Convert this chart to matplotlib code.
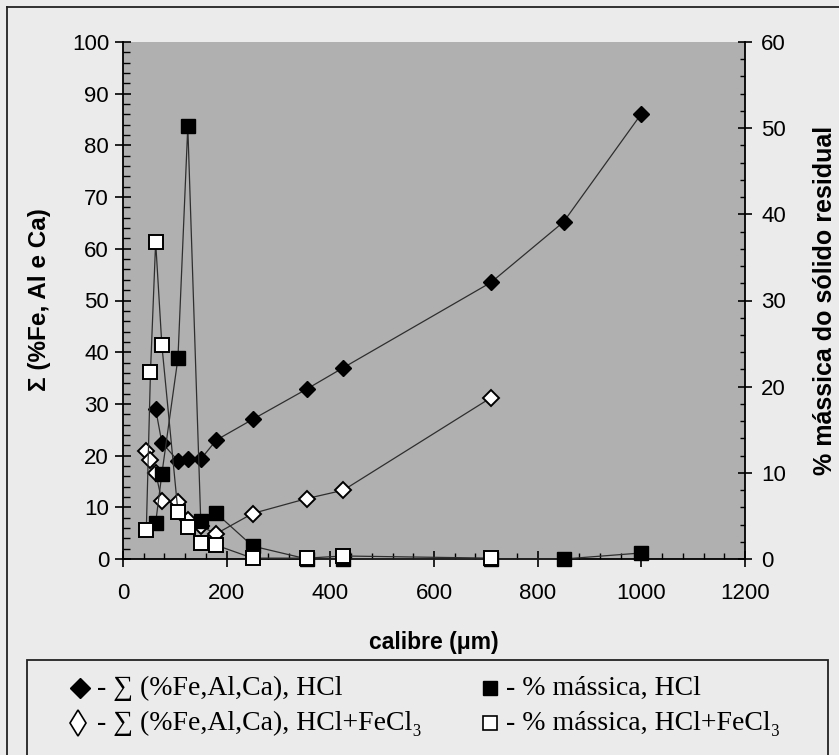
import matplotlib
matplotlib.use("Agg")
import matplotlib.pyplot as plt
from matplotlib.lines import Line2D
from matplotlib.patches import Rectangle
from matplotlib.ticker import MultipleLocator

# --- data -------------------------------------------------------------
calibre_hcl = [63, 75, 106, 125, 150, 180, 250, 355, 425, 710, 850, 1000]
soma_hcl = [29.0, 22.5, 19.0, 19.4, 19.3, 23.0, 27.0, 32.9, 37.0, 53.5, 65.2, 86.1]
massa_hcl = [4.2, 9.9, 23.3, 50.2, 4.4, 5.3, 1.5, 0.0, 0.0, 0.0, 0.0, 0.7]

calibre_fecl3 = [45, 53, 63, 75, 106, 125, 150, 180, 250, 355, 425, 710]
soma_fecl3 = [20.9, 19.1, 16.7, 11.2, 11.1, 7.5, 6.3, 4.9, 8.8, 11.7, 13.3, 31.2]
massa_fecl3 = [3.4, 21.7, 36.8, 24.8, 5.5, 3.7, 1.8, 1.6, 0.1, 0.1, 0.35, 0.1]

xlabel = "calibre (\u03bcm)"
ylabel_left = "\u03a3 (%Fe, Al e Ca)"
ylabel_right = "% m\u00e1ssica do s\u00f3lido residual"
legend_labels = [
    "- \u2211 (%Fe,Al,Ca), HCl",
    "- \u2211 (%Fe,Al,Ca), HCl+FeCl\u2083",
    "- % m\u00e1ssica, HCl",
    "- % m\u00e1ssica, HCl+FeCl\u2083",
]

# --- figure -----------------------------------------------------------
W, H, DPI = 839, 755, 100
SANS = ["Liberation Sans", "DejaVu Sans"]
SERIF = ["Liberation Serif", "DejaVu Serif"]

fig = plt.figure(figsize=(W / DPI, H / DPI), dpi=DPI, facecolor="#ebebeb")


def fx(px):
    return px / W


def fy(py):
    return 1 - py / H


ax = fig.add_axes([fx(123), fy(559), fx(745) - fx(123), fy(42) - fy(559)])
ax.set_facecolor("#b0b0b0")
ax2 = ax.twinx()

ax.set_xlim(0, 1200)
ax.set_ylim(0, 100)
ax2.set_ylim(0, 60)

LINE = "#2e2e2e"
common = dict(color=LINE, lw=0.9, clip_on=False)

ax.plot(calibre_fecl3, soma_fecl3, marker="D", ms=8, mfc="white", mec="black",
        mew=1.4, zorder=2, **common)
ax.plot(calibre_hcl, soma_hcl, marker="D", ms=8, mfc="black", mec="black",
        mew=1.0, zorder=3, **common)
ax2.plot(calibre_hcl, massa_hcl, marker="s", ms=10, mfc="black", mec="black",
         mew=1.0, zorder=4, **common)
ax2.plot(calibre_fecl3, massa_fecl3, marker="s", ms=10, mfc="white", mec="black",
         mew=1.4, zorder=5, **common)

# spines
for s in ("top", "right"):
    ax.spines[s].set_visible(False)
for s in ("top", "left", "bottom"):
    ax2.spines[s].set_visible(False)
for s in ("left", "bottom"):
    ax.spines[s].set_linewidth(1.3)
ax2.spines["right"].set_linewidth(1.3)

# ticks
ax.xaxis.set_major_locator(MultipleLocator(200))
ax.xaxis.set_minor_locator(MultipleLocator(40))
ax.yaxis.set_major_locator(MultipleLocator(10))
ax.yaxis.set_minor_locator(MultipleLocator(2))
ax2.yaxis.set_major_locator(MultipleLocator(10))
ax2.yaxis.set_minor_locator(MultipleLocator(2))

ax.tick_params(axis="y", which="major", direction="inout", length=12, width=1.2,
               labelsize=16, pad=4)
ax.tick_params(axis="y", which="minor", direction="in", length=5, width=1.0)
ax.tick_params(axis="x", which="major", direction="inout", length=11, width=1.2,
               labelsize=16, pad=12)
ax.tick_params(axis="x", which="minor", direction="in", length=4.5, width=1.0)
ax2.tick_params(axis="y", which="major", direction="inout", length=9.5, width=1.2,
                labelsize=16, pad=7)
ax2.tick_params(axis="y", which="minor", direction="in", length=3.6, width=1.0)

for lab in ax.get_xticklabels() + ax.get_yticklabels() + ax2.get_yticklabels():
    lab.set_family(SANS)

# axis titles
fig.text(fx(434), fy(642), xlabel, ha="center", va="center", fontsize=16.5,
         fontweight="bold", family=SANS)
fig.text(fx(40), fy(300), ylabel_left, ha="center", va="center", rotation=90,
         fontsize=17.5, fontweight="bold", family=SANS)
fig.text(fx(825), fy(300), ylabel_right, ha="center", va="center", rotation=90,
         fontsize=18, fontweight="bold", family=SANS)

# outer chart frame (top and left edges)
fig.add_artist(Line2D([fx(7), fx(839)], [fy(7), fy(7)], color="#222222", lw=1.3,
                      transform=fig.transFigure))
fig.add_artist(Line2D([fx(7), fx(7)], [fy(7), fy(760)], color="#222222", lw=1.3,
                      transform=fig.transFigure))

# legend box
fig.add_artist(Rectangle((fx(27), fy(780)), fx(828) - fx(27), fy(660) - fy(780),
                         transform=fig.transFigure, fill=False, edgecolor="#222222",
                         lw=1.3, clip_on=False))

legend_rows = [
    (80, 688, "D", 10, "black", 1.0, 97, legend_labels[0]),
    (78, 723, "d", 13, "white", 1.2, 97, legend_labels[1]),
    (490, 688, "s", 10, "black", 1.0, 506, legend_labels[2]),
    (490, 723, "s", 10, "white", 1.2, 506, legend_labels[3]),
]
for mx, my, mk, ms, fc, mw, tx, txt in legend_rows:
    fig.add_artist(Line2D([fx(mx)], [fy(my)], marker=mk, ms=ms, mfc=fc,
                          mec="black", mew=mw, ls="none",
                          transform=fig.transFigure))
    fig.text(fx(tx), fy(my), txt, ha="left", va="center", fontsize=20,
             family=SERIF)

fig.savefig("out.png", dpi=DPI, facecolor=fig.get_facecolor())
